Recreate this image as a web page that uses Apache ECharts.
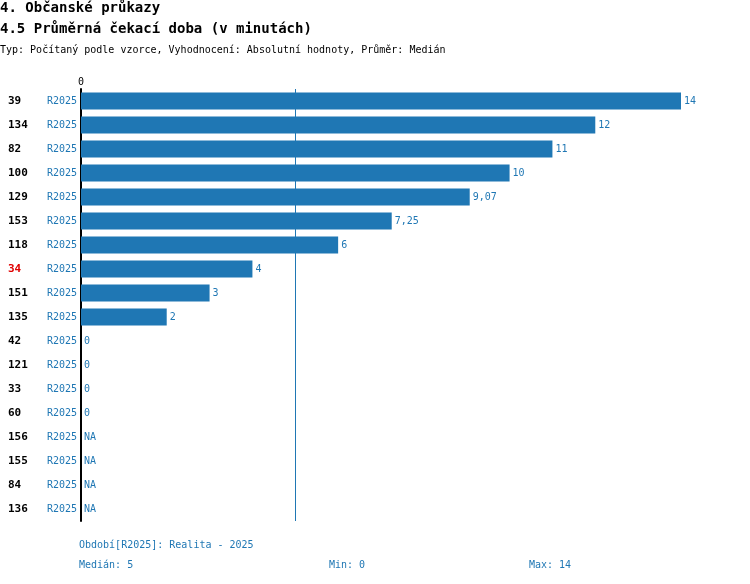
<!DOCTYPE html>
<html>
<head>
<meta charset="utf-8">
<script src="https://cdn.jsdelivr.net/npm/echarts@6/dist/echarts.min.js"></script>
<style>html,body{margin:0;padding:0;background:#fff}#chart{width:750px;height:584px}</style>
</head>
<body>
<div id="chart"></div>
<script>
// data
var ids = ['39', '134', '82', '100', '129', '153', '118', '34', '151', '135', '42', '121', '33', '60', '156', '155', '84', '136'];
var periods = ['R2025', 'R2025', 'R2025', 'R2025', 'R2025', 'R2025', 'R2025', 'R2025', 'R2025', 'R2025', 'R2025', 'R2025', 'R2025', 'R2025', 'R2025', 'R2025', 'R2025', 'R2025'];
var values = [14, 12, 11, 10, 9.07, 7.25, 6, 4, 3, 2, 0, 0, 0, 0, null, null, null, null];
var highlightId = '34';
var median = 5;

var mono = 'DejaVu Sans Mono';
var blue = '#1f77b4';

var chart = echarts.init(document.getElementById('chart'));

var seriesData = values.map(function (v) {
    if (v === null) {
        return { value: 0, label: { formatter: 'NA' } };
    }
    return v;
});

chart.setOption({
    animation: false,
    textStyle: { fontFamily: mono },
    graphic: [
        { type: 'text', left: 0, top: 1, style: { text: '4. Občanské průkazy', font: 'bold 14px ' + mono, fill: '#000' } },
        { type: 'text', left: 0, top: 22, style: { text: '4.5 Průměrná čekací doba (v minutách)', font: 'bold 14px ' + mono, fill: '#000' } },
        { type: 'text', left: 0, top: 45, style: { text: 'Typ: Počítaný podle vzorce, Vyhodnocení: Absolutní hodnoty, Průměr: Medián', font: '10px ' + mono, fill: '#000' } },
        { type: 'text', left: 79, top: 540, style: { text: 'Období[R2025]: Realita - 2025', font: '10px ' + mono, fill: blue } },
        { type: 'text', left: 79, top: 560, style: { text: 'Medián: ' + median, font: '10px ' + mono, fill: blue } },
        { type: 'text', left: 329, top: 560, style: { text: 'Min: 0', font: '10px ' + mono, fill: blue } },
        { type: 'text', left: 529, top: 560, style: { text: 'Max: 14', font: '10px ' + mono, fill: blue } }
    ],
    grid: { left: 81, top: 89, width: 600, height: 432 },
    xAxis: {
        type: 'value', position: 'top', min: 0, max: 14, interval: 14,
        axisLine: { show: false }, axisTick: { show: false }, splitLine: { show: false },
        axisLabel: {
            margin: 2, color: '#000', fontSize: 10, fontFamily: mono,
            formatter: function (v) { return v === 0 ? '0' : ''; }
        }
    },
    yAxis: [
        {
            type: 'category', inverse: true, data: periods,
            axisLine: { show: true, lineStyle: { color: '#000', width: 2 } },
            axisTick: { show: false },
            axisLabel: { margin: 4, color: blue, fontSize: 10, fontFamily: mono }
        },
        {
            type: 'category', inverse: true, position: 'left', data: ids,
            axisLine: { show: false }, axisTick: { show: false },
            axisLabel: {
                margin: 73, align: 'left', fontSize: 11, fontWeight: 'bold', fontFamily: mono,
                color: function (v) { return v === highlightId ? '#e00000' : '#000'; }
            }
        }
    ],
    series: [{
        type: 'bar', data: seriesData, barWidth: 17,
        itemStyle: { color: blue },
        label: {
            show: true, position: 'right', distance: 3, color: blue, fontSize: 10, fontFamily: mono,
            formatter: function (p) { return String(p.value).replace('.', ','); }
        },
        markLine: {
            silent: true, symbol: 'none', label: { show: false },
            lineStyle: { color: blue, width: 1, type: 'solid' },
            data: [{ xAxis: median }]
        }
    }]
});
</script>
</body>
</html>
